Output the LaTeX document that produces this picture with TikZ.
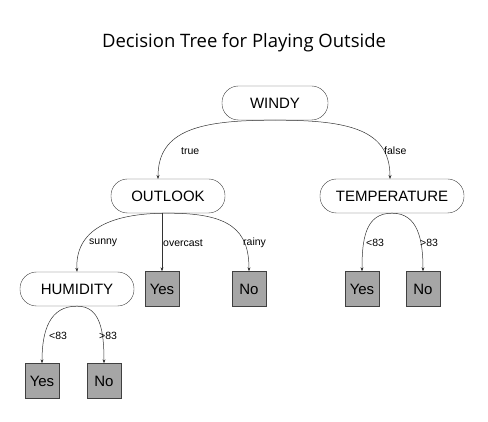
\documentclass[tikz,border=0pt]{standalone}
\usepackage{fontspec}
\setmainfont{Liberation Sans}
\newfontfamily\titlefont{Open Sans}
\usetikzlibrary{arrows.meta}
\begin{document}
\begin{tikzpicture}[x=1pt,y=-1pt,
  attr/.style={draw=black!75,rounded corners=16.5pt,minimum height=34pt,inner sep=0pt,font=\fontsize{15}{17}\selectfont},
  leaf/.style={draw=black!75,fill=black!35,minimum width=34pt,minimum height=35pt,inner sep=0pt,font=\fontsize{15}{17}\selectfont},
  edge/.style={draw=black!80,line width=0.5pt,-{Stealth[length=4pt,width=3pt]}},
  lbl/.style={font=\fontsize{10.5}{12}\selectfont,anchor=west,inner sep=0pt}]
\useasboundingbox (0,0) rectangle (488,422);
\node[font=\titlefont\fontsize{18.5}{21}\selectfont] (title) at (244,43) {Decision Tree for Playing Outside};
\node[attr,minimum width=106pt] (windy) at (275,103) {WINDY};
\node[attr,minimum width=114pt] (outlook) at (168,196) {OUTLOOK};
\node[attr,minimum width=144pt] (temp) at (392,196) {TEMPERATURE};
\node[attr,minimum width=114pt] (hum) at (77,289) {HUMIDITY};
\node[leaf] (oyes) at (162,289) {Yes};
\node[leaf] (ono) at (249,289) {No};
\node[leaf] (tyes) at (362,289) {Yes};
\node[leaf] (tno) at (423,289) {No};
\node[leaf] (hyes) at (42,381) {Yes};
\node[leaf] (hno) at (104,381) {No};
\path[edge] (windy.south) .. controls (200,120) and (158,130) .. (158,179);
\path[edge] (windy.south) .. controls (350,120) and (390,130) .. (390,179);
\path[edge] (outlook.south) .. controls (110,213) and (75,230) .. (hum.north);
\path[edge] (outlook.south -| oyes.north) -- (oyes.north);
\path[edge] (outlook.south) .. controls (230,213) and (249,230) .. (ono.north);
\path[edge] (hum.south) .. controls (50,306) and (42,330) .. (hyes.north);
\path[edge] (hum.south) .. controls (100,306) and (104,330) .. (hno.north);
\path[edge] (temp.south) .. controls (365,213) and (362,240) .. (tyes.north);
\path[edge] (temp.south) .. controls (418,213) and (423,240) .. (tno.north);
\node[lbl] (ltrue) at (181,151) {true};
\node[lbl] (lfalse) at (384,151) {false};
\node[lbl] (lsunny) at (89,243) {sunny};
\node[lbl] (lover) at (163,243) {overcast};
\node[lbl] (lrainy) at (243,243) {rainy};
\node[lbl] (lh1) at (49,336) {<83};
\node[lbl] (lh2) at (99,336) {>83};
\node[lbl] (lt1) at (366,243) {<83};
\node[lbl] (lt2) at (420,243) {>83};
\end{tikzpicture}
\end{document}
